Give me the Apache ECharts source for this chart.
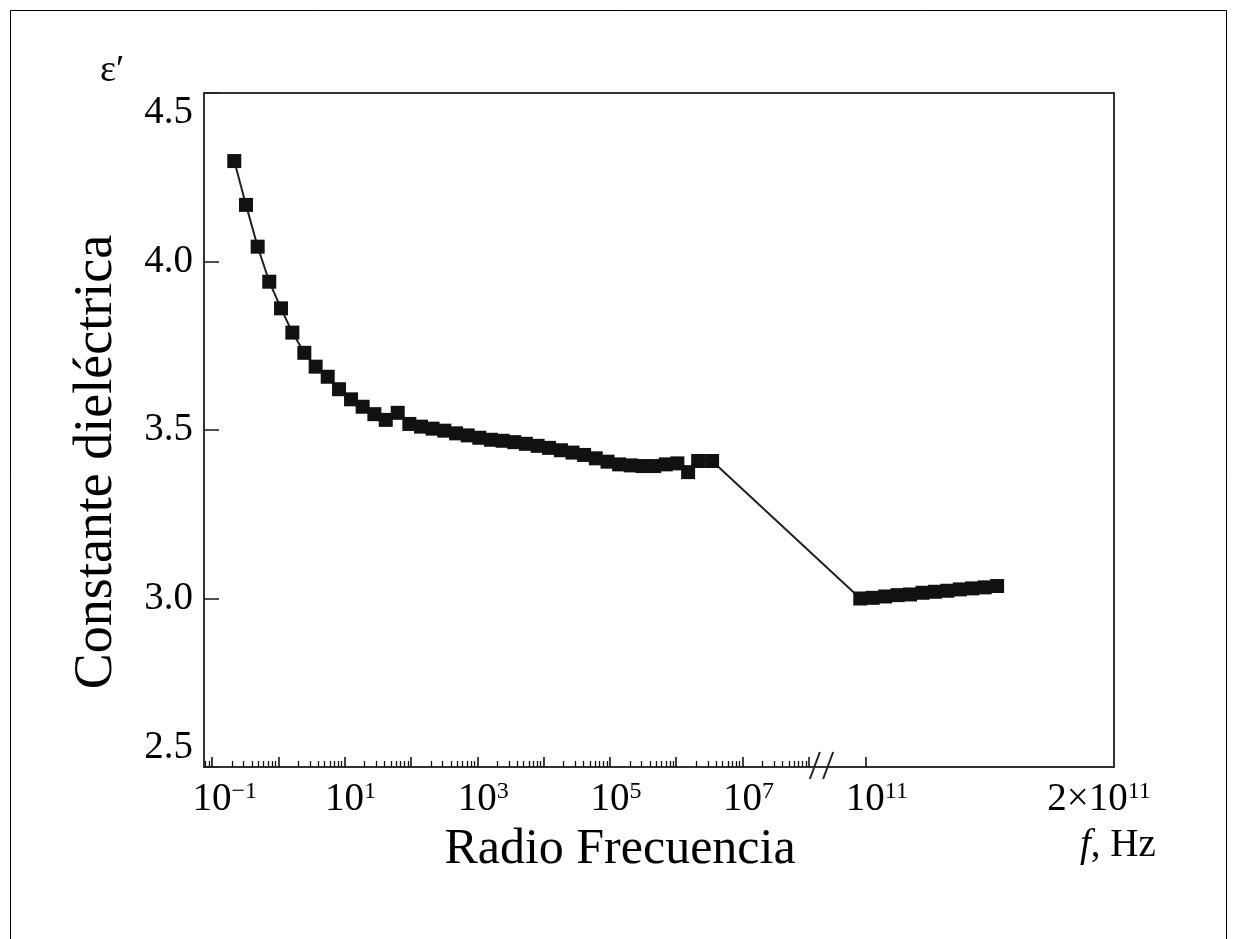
<!DOCTYPE html>
<html><head><meta charset="utf-8">
<script src="https://cdn.jsdelivr.net/npm/echarts@6/dist/echarts.min.js"></script>
<style>html,body{margin:0;padding:0;background:#fff}#c{width:1237px;height:939px}</style>
</head><body><div id="c"></div>
<script>
// ---- data (frequency in Hz, dielectric constant) ----
const freqLow = [0.217, 0.326, 0.489, 0.731, 1.10, 1.63, 2.47, 3.66, 5.56, 8.24, 12.5, 18.7, 28.1, 41.7, 63.2, 94.6,
  142, 212, 319, 479, 716, 1072, 1611, 2410, 3614, 5410, 8128, 12100, 18240, 27290, 40830, 61240, 92040,
  137700, 206100, 309000, 464500, 695000, 1.04e6, 1.51e6, 2.14e6, 3.47e6];
const epsLow = [4.298, 4.168, 4.044, 3.940, 3.861, 3.789, 3.729, 3.688, 3.658, 3.621, 3.591, 3.569, 3.547, 3.530, 3.551, 3.518,
  3.510, 3.504, 3.498, 3.490, 3.484, 3.477, 3.471, 3.468, 3.464, 3.459, 3.453, 3.447, 3.440, 3.433, 3.426, 3.416, 3.406,
  3.398, 3.395, 3.393, 3.393, 3.398, 3.401, 3.375, 3.408, 3.408];
const freqHigh = [0.98e11, 1.03e11, 1.08e11, 1.13e11, 1.18e11, 1.23e11, 1.28e11, 1.33e11, 1.38e11, 1.43e11, 1.48e11, 1.53e11];
const epsHigh = [3.000, 3.002, 3.006, 3.010, 3.012, 3.017, 3.020, 3.023, 3.027, 3.030, 3.033, 3.037];
const yTickValues = [2.5, 3.0, 3.5, 4.0, 4.5];
const decadeLabelExps = [-1, 1, 3, 5, 7];
const highLabelFreqs = [1e11, 2e11];

// ---- broken axis scale: log10(f) below the break, linear above ----
const U_MIN = -1.12, LOG_END = 8, U_1E11 = 8.85, U_2E11 = 12.6;
function toU(f) { return f < 1e10 ? Math.log10(f) : U_1E11 + (f / 1e11 - 1) * (U_2E11 - U_1E11); }

const points = [];
freqLow.forEach((f, i) => points.push([toU(f), epsLow[i]]));
freqHigh.forEach((f, i) => points.push([toU(f), epsHigh[i]]));

const minorTicks = [], majorTicks = [];
for (let d = -2; d <= 8; d++) {
  if (d >= U_MIN && d <= LOG_END) majorTicks.push(d);
  for (let k = 2; k <= 9; k++) { const u = d + Math.log10(k); if (u > U_MIN && u < LOG_END) minorTicks.push(u); }
}
majorTicks.push(toU(1e11));
const labelValues = decadeLabelExps.concat(highLabelFreqs.map(toU));

const serif = 'Liberation Serif';
const sup = (s) => s.replace('-', '\u2212');
function xLabel(u) {
  if (Math.abs(u - toU(2e11)) < 1e-6) return '{b|2×10}{s|11}{g|}';
  if (Math.abs(u - toU(1e11)) < 1e-6) return '{h|11}{b|10}{s|11}';
  const e = sup(String(Math.round(u)));
  return '{h|' + e + '}{b|10}{s|' + e + '}';
}

const chart = echarts.init(document.getElementById('c'), null, { renderer: 'canvas' });
const axisColor = '#333';
chart.setOption({
  animation: false,
  backgroundColor: '#fff',
  grid: { left: 204, right: 123, top: 93, bottom: 172, show: true, borderColor: axisColor, borderWidth: 2, backgroundColor: 'transparent' },
  xAxis: [{
    type: 'value', min: U_MIN, max: U_2E11,
    axisLine: { show: true, onZero: false, lineStyle: { color: axisColor, width: 2 } },
    axisTick: { show: true, inside: true, length: 10, customValues: majorTicks, lineStyle: { color: '#111', width: 1.6 } },
    axisLabel: {
      customValues: labelValues, margin: 13, formatter: xLabel, color: '#000',
      rich: {
        b: { fontFamily: serif, fontSize: 39, color: '#000' },
        s: { fontFamily: serif, fontSize: 24, color: '#000', verticalAlign: 'top' },
        h: { fontFamily: serif, fontSize: 24, color: 'transparent', verticalAlign: 'top' },
        g: { width: 30 }
      }
    },
    splitLine: { show: false },
    name: 'Radio Frecuencia', nameLocation: 'middle', nameGap: 58,
    nameTextStyle: { fontFamily: serif, fontSize: 50, color: '#000', padding: [0, 78, 0, 0] }
  }, {
    type: 'value', min: U_MIN, max: U_2E11, position: 'bottom',
    axisLine: { show: false, onZero: false },
    axisTick: { show: true, inside: true, length: 6, customValues: minorTicks, lineStyle: { color: '#111', width: 1.3 } },
    axisLabel: { show: false }, splitLine: { show: false }
  }],
  yAxis: {
    type: 'value', min: 2.5, max: 4.5, interval: 0.5,
    axisLine: { show: true, onZero: false, lineStyle: { color: axisColor, width: 2 } },
    axisTick: { show: true, inside: true, length: 15, lineStyle: { color: '#222', width: 1.6 } },
    axisLabel: {
      fontFamily: serif, fontSize: 39, color: '#000', margin: 11,
      formatter: v => v.toFixed(1),
      verticalAlignMinLabel: 'bottom', verticalAlignMaxLabel: 'top'
    },
    splitLine: { show: false },
    name: 'Constante dieléctrica', nameLocation: 'middle', nameGap: 80,
    nameTextStyle: { fontFamily: serif, fontSize: 54, color: '#000', padding: [0, 64, 0, 0] }
  },
  series: [{
    type: 'line', data: points, xAxisIndex: 0,
    symbol: 'rect', symbolSize: 14, showSymbol: true,
    lineStyle: { color: '#222', width: 2 },
    itemStyle: { color: '#111' },
    z: 3
  }],
  graphic: [
    { type: 'rect', shape: { x: 10.5, y: 10.5, width: 1216, height: 1000 }, style: { fill: 'none', stroke: '#000', lineWidth: 1 }, silent: true },
    { type: 'text', left: 100, top: 52, style: { text: 'ε′', font: '38px "Liberation Serif"', fill: '#000' } },
    { type: 'text', left: 1080, top: 826, style: { text: '{i|f}{n|, Hz}', rich: { i: { font: 'italic 39px "Liberation Serif"', fill: '#000' }, n: { font: '39px "Liberation Serif"', fill: '#000' } } } }
  ]
});

// break marks "//" on the x axis, placed through the axis scale
const yAxisPx = chart.convertToPixel({ yAxisIndex: 0 }, 2.5);
const breakMarks = [8.09, 8.29].map(u => {
  const x = chart.convertToPixel({ xAxisIndex: 0 }, u);
  return { type: 'line', shape: { x1: x - 5, y1: yAxisPx + 12, x2: x + 5, y2: yAxisPx - 15 }, style: { stroke: '#222', lineWidth: 2 }, z: 10 };
});
chart.setOption({ graphic: breakMarks.map((g, i) => Object.assign({ id: 'brk' + i }, g)) });
</script></body></html>
